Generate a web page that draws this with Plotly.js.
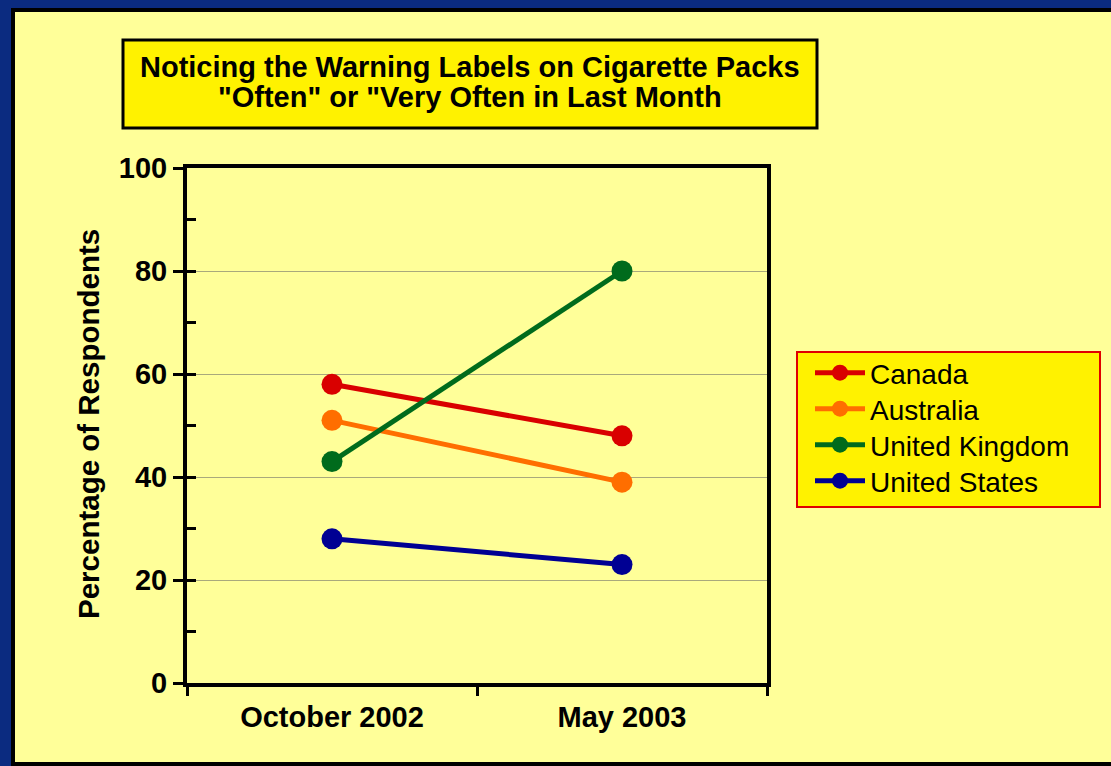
<!DOCTYPE html>
<html>
<head>
<meta charset="utf-8">
<script src="https://cdn.plot.ly/plotly-3.0.1.min.js"></script>
<style>
  html, body { margin: 0; padding: 0; background: #0b2b80; }
  #chart { width: 1111px; height: 766px; }
</style>
</head>
<body>
<div id="chart"></div>
<script>
// ---- data ----
const categories = ["October 2002", "May 2003"];
const seriesNames = ["Canada", "Australia", "United Kingdom", "United States"];
const canada = [58, 48];
const australia = [51, 39];
const unitedKingdom = [43, 80];
const unitedStates = [28, 23];
const yTickVals = [0, 20, 40, 60, 80, 100];
const titleLines = ['Noticing the Warning Labels on Cigarette Packs', '"Often" or "Very Often in Last Month'];
const yTitleText = "Percentage of Respondents";

const seriesValues = [canada, australia, unitedKingdom, unitedStates];
const seriesColors = ["#d90000", "#ff6e00", "#006b1c", "#000093"];

const FONT = "Liberation Sans, Arial, Helvetica, sans-serif";

// plot area in pixels (for placing decorations in paper coords)
const L = 187, R = 767, T = 168, B = 683, W = 1111, H = 766;
const px = x => (x - L) / (R - L);
const py = y => (B - y) / (B - T);

const legendIds = ["legend", "legend2", "legend3", "legend4"];
const legendRowY = [373, 409, 445, 481];

const traces = seriesNames.map((name, i) => ({
  type: "scatter",
  mode: "lines+markers",
  name: name,
  legend: legendIds[i],
  x: categories,
  y: seriesValues[i],
  line: { color: seriesColors[i], width: 5 },
  marker: { color: seriesColors[i], size: 21 },
  cliponaxis: false
}));

// dummy trace so the overlay axis (inside ticks) is drawn
traces.push({
  type: "scatter", mode: "markers", x: [], y: [], yaxis: "y2",
  showlegend: false, hoverinfo: "skip"
});

const layout = {
  width: W, height: H,
  paper_bgcolor: "#0b2b80",
  plot_bgcolor: "rgba(0,0,0,0)",
  margin: { l: L, r: W - R, t: T, b: H - B, pad: 0 },
  font: { family: FONT, color: "#000" },
  showlegend: true,
  xaxis: {
    type: "category",
    range: [-0.5, 1.5],
    tickson: "boundaries",
    ticks: "outside", ticklen: 9, tickwidth: 3, tickcolor: "#000",
    ticklabelstandoff: 5,
    showline: true, linecolor: "#000", linewidth: 4, mirror: true,
    showgrid: false, zeroline: false,
    tickfont: { family: FONT, size: 29, weight: 700, color: "#000" },
    fixedrange: true
  },
  yaxis: {
    range: [0, 100],
    tickvals: yTickVals,
    ticks: "outside", ticklen: 10, tickwidth: 3, tickcolor: "#000",
    showline: true, linecolor: "#000", linewidth: 4, mirror: true,
    showgrid: true, gridcolor: "#a9a97c", gridwidth: 1,
    zeroline: false,
    tickfont: { family: FONT, size: 29, weight: 700, color: "#000" },
    fixedrange: true
  },
  yaxis2: {
    range: [0, 100],
    overlaying: "y", side: "left", anchor: "x",
    dtick: 10, tick0: 0,
    ticks: "inside", ticklen: 9, tickwidth: 3, tickcolor: "#000",
    showticklabels: false, showgrid: false, zeroline: false, showline: false,
    fixedrange: true
  },
  shapes: [
    // yellow slide panel with black frame
    { type: "rect", xref: "paper", yref: "paper", layer: "below",
      x0: px(13), x1: px(1130), y0: py(764), y1: py(10),
      fillcolor: "#ffff99", line: { color: "#000", width: 4 } },
    // title box
    { type: "rect", xref: "paper", yref: "paper", layer: "below",
      x0: px(123), x1: px(817), y0: py(128), y1: py(40),
      fillcolor: "#fff200", line: { color: "#000", width: 3 } },
    // legend box
    { type: "rect", xref: "paper", yref: "paper", layer: "below",
      x0: px(797), x1: px(1100), y0: py(507), y1: py(352),
      fillcolor: "#fff200", line: { color: "#e00000", width: 2 } }
  ],
  annotations: [
    { text: titleLines[0], xref: "paper", yref: "paper",
      x: px(470), y: py(67), xanchor: "center", yanchor: "middle",
      showarrow: false, align: "center",
      font: { family: FONT, size: 29, weight: 700, color: "#000" } },
    { text: titleLines[1], xref: "paper", yref: "paper",
      x: px(470), y: py(97), xanchor: "center", yanchor: "middle",
      showarrow: false, align: "center",
      font: { family: FONT, size: 29, weight: 700, color: "#000" } },
    { text: yTitleText, xref: "paper", yref: "paper",
      x: px(88), y: py(424), xanchor: "center", yanchor: "middle",
      textangle: -90, showarrow: false,
      font: { family: FONT, size: 29.5, weight: 700, color: "#000" } }
  ]
};

legendIds.forEach((id, i) => {
  layout[id] = {
    x: px(810), y: py(legendRowY[i]), xanchor: "left", yanchor: "middle",
    bgcolor: "rgba(0,0,0,0)", borderwidth: 0,
    font: { family: FONT, size: 28, color: "#000" },
    itemwidth: 50
  };
});

Plotly.newPlot("chart", traces, layout, { displayModeBar: false, staticPlot: true });
</script>
</body>
</html>
